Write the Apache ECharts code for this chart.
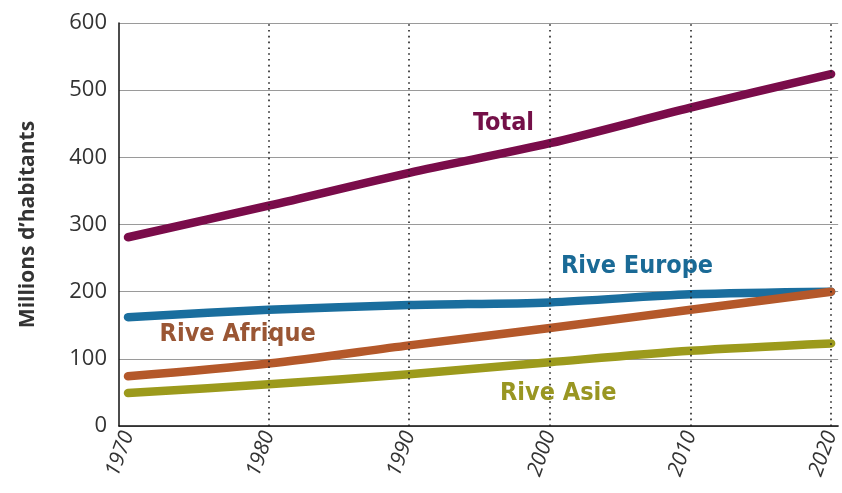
<!DOCTYPE html>
<html>
<head>
<meta charset="utf-8">
<script src="https://cdn.jsdelivr.net/npm/echarts@6/dist/echarts.min.js"></script>
<style>html,body{margin:0;padding:0;background:#fff}#c{width:842px;height:493px}</style>
</head>
<body>
<div id="c"></div>
<script>
const years = [1970, 1980, 1990, 2000, 2010, 2020];
const total = [281, 328, 377, 421, 474, 524];
const riveEurope = [162, 173, 180, 184, 196, 200];
const riveAfrique = [74, 93, 120, 146, 173, 200];
const riveAsie = [49, 62, 77, 95, 112, 123];
const yTicks = [0, 100, 200, 300, 400, 500, 600];
const yAxisName = 'Millions d’habitants';
const labels = [
  {text: 'Total', year: 1996.7, value: 450, color: '#741048'},
  {text: 'Rive Europe', year: 2006.2, value: 237, color: '#1a6a96'},
  {text: 'Rive Afrique', year: 1977.8, value: 136, color: '#9a5634'},
  {text: 'Rive Asie', year: 2000.6, value: 49, color: '#999622'}
];

const colors = ['#7a0c4a', '#1a6e9e', '#b4582a', '#9c9a1c'];
const seriesData = [total, riveEurope, riveAfrique, riveAsie];
const names = ['Total', 'Rive Europe', 'Rive Afrique', 'Rive Asie'];

const chart = echarts.init(document.getElementById('c'));
const series = [{
  type: 'line', data: [], silent: true, z: 1,
  markLine: {
    silent: true, symbol: 'none', animation: false,
    label: {show: false},
    lineStyle: {color: '#222', width: 1.6, type: [1.6, 4.2]},
    data: years.slice(1).map(y => ({xAxis: y}))
  }
}];
names.forEach((n, i) => {
  series.push({
    name: n, type: 'line', smooth: 0.3, symbol: 'none', z: 3,
    data: years.map((y, j) => [y, seriesData[i][j]]),
    lineStyle: {color: colors[i], width: 8.5, cap: 'round', join: 'round'},
    itemStyle: {color: colors[i]}
  });
});
series.push({
  type: 'scatter', z: 5, symbolSize: 1, silent: true,
  itemStyle: {opacity: 0},
  data: labels.map(l => ({
    value: [l.year, l.value],
    label: {show: true, position: 'inside', formatter: l.text, color: l.color,
      textBorderWidth: 0, opacity: 1,
      fontFamily: 'DejaVu Sans Condensed', fontWeight: 'bold', fontSize: 25}
  }))
});

chart.setOption({
  animation: false,
  grid: {left: 119, right: 2, top: 23, bottom: 67, containLabel: false},
  xAxis: {
    type: 'value', min: 1969.36, max: 2020.5,
    axisLine: {show: true, lineStyle: {color: '#111', width: 1.5}},
    axisTick: {show: false},
    splitLine: {show: false},
    axisLabel: {
      customValues: years, rotate: 70, margin: 6,
      color: '#333', fontStyle: 'italic', fontSize: 21, fontFamily: 'Open Sans',
      formatter: v => String(v)
    }
  },
  yAxis: {
    type: 'value', min: 0, max: 600, interval: 100,
    name: yAxisName, nameLocation: 'middle', nameGap: 80, nameRotate: 90,
    nameTextStyle: {fontFamily: 'Open Sans', fontWeight: 'bold', fontSize: 21, color: '#333'},
    axisLine: {show: true, lineStyle: {color: '#111', width: 1.5}},
    axisTick: {show: false},
    splitLine: {show: true, lineStyle: {color: '#9a9a9a', width: 1.2}},
    axisLabel: {color: '#333', fontSize: 22, fontFamily: 'Open Sans', margin: 12,
      customValues: yTicks}
  },
  series: series
});
</script>
</body>
</html>
